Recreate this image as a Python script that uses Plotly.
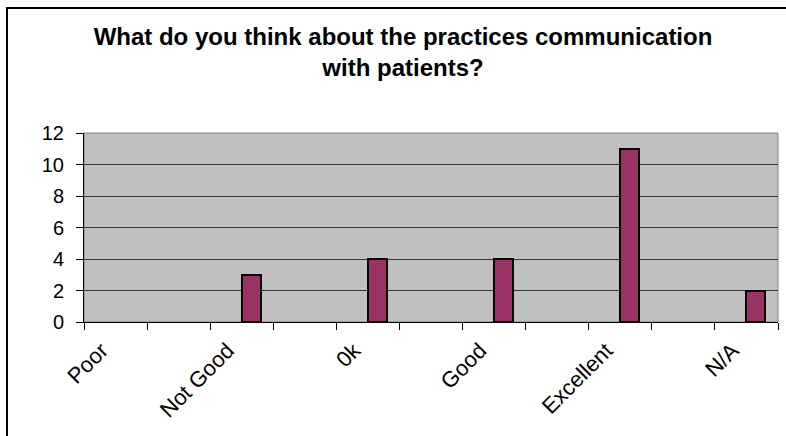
import plotly.graph_objects as go

categories = ["Poor", "Not Good", "0k", "Good", "Excellent", "N/A"]
values = [0, 3, 4, 4, 11, 2]
y_ticks = [0, 2, 4, 6, 8, 10, 12]
title_text = "What do you think about the practices communication<br>with patients?"

W, H = 786, 436
L, R, T, B = 84, 8, 133, 114
pw, ph = W - L - R, H - T - B

# each category occupies two axis slots; bar sits in the first slot, right of centre
slot_pos = [2 * i for i in range(len(categories))]
label_pos = [p + 0.5 for p in slot_pos]

FONT = "Arial, 'Liberation Sans', sans-serif"

fig = go.Figure()
fig.add_trace(go.Bar(
    x=slot_pos, y=values,
    offset=0.5, width=0.3,
    marker=dict(color="#993366",
                line=dict(color="black", width=[2 if v else 0 for v in values])),
    hoverinfo="y", showlegend=False,
))

def px_x(p):
    return (p - L) / pw

def px_y(p):
    return (H - B - p) / ph

fig.update_layout(
    width=W, height=H,
    margin=dict(l=L, r=R, t=T, b=B, pad=0),
    paper_bgcolor="white",
    plot_bgcolor="#C0C0C0",
    font=dict(family=FONT, color="black"),
    title=dict(
        text="<b>" + title_text + "</b>",
        x=403 / W, xanchor="center", xref="container",
        y=1 - 45 / H, yanchor="top", yref="container",
        font=dict(size=24, family=FONT, color="black"),
    ),
    bargap=0,
    xaxis=dict(
        range=[0, 2 * len(categories) - 1],
        tickmode="array", tickvals=label_pos, ticktext=categories,
        tickangle=-45, ticks="", ticklen=0,
        ticklabelstandoff=6, ticklabelshift=-14,
        tickfont=dict(size=22, family=FONT, color="black"),
        showgrid=False, zeroline=False,
        showline=True, linecolor="black", linewidth=1,
        minor=dict(tickmode="linear", tick0=0, dtick=1, ticks="outside",
                   ticklen=7, tickcolor="black", tickwidth=1, showgrid=False),
        fixedrange=True,
    ),
    yaxis=dict(
        range=[0, 12], tickmode="array", tickvals=y_ticks,
        ticks="outside", ticklen=7, tickcolor="black", tickwidth=1,
        ticklabelstandoff=8,
        tickfont=dict(size=20, family=FONT, color="black"),
        showgrid=True, gridcolor="#333333", gridwidth=1,
        zeroline=False,
        showline=True, linecolor="black", linewidth=1,
        fixedrange=True,
    ),
    shapes=[
        # plot-area outline (top/right grey)
        dict(type="rect", xref="paper", yref="paper", x0=0, x1=1, y0=0, y1=1,
             line=dict(color="#808080", width=1), layer="between"),
        # chart frame
        dict(type="rect", xref="paper", yref="paper",
             x0=px_x(7), x1=px_x(W + 20), y0=px_y(H + 20), y1=px_y(8),
             line=dict(color="black", width=2), fillcolor="rgba(0,0,0,0)"),
    ],
)

fig.write_html("out.html")
